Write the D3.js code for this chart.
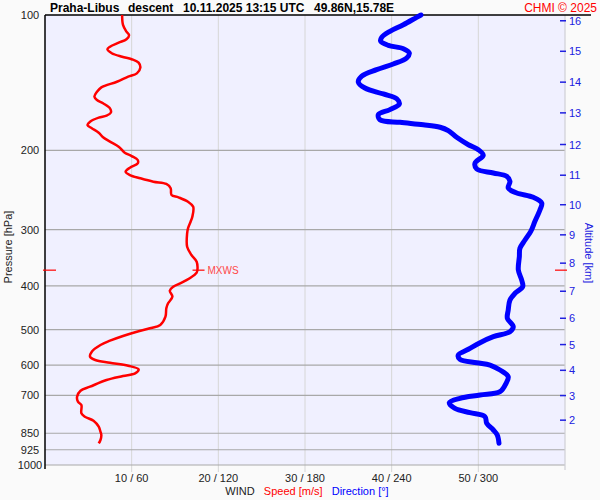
<!DOCTYPE html>
<html>
<head>
<meta charset="utf-8">
<script src="https://cdn.jsdelivr.net/npm/d3@7"></script>
<style>
body { margin: 0; background: #fafafa; }
text { font-family: "Liberation Sans", Arial, sans-serif; }
</style>
</head>
<body>
<script>
// wind speed profile [hPa, m/s]
var speedP = [100,105.2,108.9,110.8,113.2,115.2,117.6,119.2,121.6,123.8,125.4,127.6,130.9,134.8,137.1,140.7,144.8,148.1,151.9,154.5,
  157.1,161.2,164.8,167.4,169.1,172.6,175.6,178.5,182.6,187,191.2,196.2,202.3,205.8,210,213.6,218.4,223,226.8,230.6,
  234.7,237.4,242.7,251.2,254.2,260,266.7,280.7,288,297.9,305.6,327.3,341.5,353.4,365.5,373.8,384.7,394.7,401.6,409.9,
  422.7,437.2,448.5,468.2,488.5,496.9,505.6,516.8,529.4,541.2,560,574.6,584.4,592.5,601.7,612.9,625.5,634.2,647.3,669.9,
  683.7,705.1,723.3,735.6,767.5,781,797.2,822,843.3,857.7,879.9,894.9];
var speedV = [8.9,9.0,9.4,9.7,9.4,8.5,7.5,7.2,7.7,8.9,10.0,10.8,11.0,10.6,9.6,8.3,6.5,6.0,5.7,6.0,
  6.7,7.5,7.6,7.1,6.2,5.2,4.9,5.4,6.2,6.7,7.5,8.5,9.2,10.0,10.7,10.7,9.8,9.3,9.8,11.0,
  12.5,14.0,14.5,14.6,15.4,16.5,17.1,17.0,16.8,16.5,16.4,16.4,16.9,17.5,17.6,17.5,16.7,15.6,14.8,14.4,
  14.7,14.2,14.0,13.9,13.3,12.1,10.6,9.0,7.5,6.4,5.4,5.2,5.8,7.5,9.6,10.8,10.4,9.0,7.1,5.2,
  4.1,3.7,3.8,4.2,4.2,4.6,5.6,6.2,6.4,6.5,6.4,6.2];

// wind direction profile [hPa, deg]
var dirP = [100,101.2,105.1,108.7,112.1,114.4,116.8,118.8,121.5,124.6,128.5,132.3,136.8,140.9,145.3,149.8,153.5,157.7,162.3,166.5,
  170.9,173.2,175.3,177.6,180.7,187,194.2,199.2,205,213.3,219.9,224.4,228.3,234.2,242.4,248.6,254.2,261.7,270.8,287.4,
  302.5,316.2,330,344.4,368.8,388.1,401.6,415.4,429.9,452.5,472.1,492.8,505.6,518.7,534.8,553.2,569.6,582.3,592.5,599.5,
  615.1,636.5,658.3,687.2,699,710.9,727.1,748.2,765.2,781,807.8,836,857.7,894.9];
var dirV = [260.3,257.3,248.1,238.8,233.1,232.4,237.7,248.1,252.2,250.4,241.1,229.6,219.3,216.9,221.5,234.2,243.5,245.3,238.8,230.8,
  231.9,245.8,261.9,273.5,279.2,285.0,293.1,300.0,303.4,297.7,298.9,310.4,319.6,321.9,320.7,326.6,338.1,343.9,342.7,339.2,
  336.3,332.3,328.8,328.4,327.7,330.0,330.7,325.4,321.9,320.7,320.1,324.2,321.9,310.4,301.2,293.1,286.1,287.3,298.9,308.1,
  315.0,320.7,319.2,315.0,301.2,287.3,279.9,283.8,294.2,304.6,305.8,310.4,313.1,314.3];

var pressureTicks = [100,200,300,400,500,600,700,850,925,1000];
var altKm = [2,3,4,5,6,7,8,9,10,11,12,13,14,15,16];
var altP = [795,701,616,540,472,411,356,308,264,227,194,165,141,120.4,103];
var speedTicks = [10,20,30,40,50];
var speedTickLabels = ["10 / 60","20 / 120","30 / 180","40 / 240","50 / 300"];
var mxwsP = 369, mxwsV = 17.6;

var W = 600, H = 500;
var pLeft = 45, pRight = 565, pTop = 15, pBottom = 465;

var svg = d3.select("body").append("svg")
  .attr("width", W).attr("height", H);

svg.append("rect").attr("width", W).attr("height", H).attr("fill", "#fafafa");

var y = d3.scaleLog().domain([100, 1000]).range([pTop, pBottom]);
var xs = d3.scaleLinear().domain([0, 60]).range([pLeft, pRight]);
var xd = d3.scaleLinear().domain([0, 360]).range([pLeft, pRight]);

svg.append("rect")
  .attr("x", pLeft).attr("y", pTop)
  .attr("width", pRight - pLeft).attr("height", pBottom - pTop)
  .attr("fill", "#f0f0ff");

// vertical grid
svg.selectAll(".vgrid").data(speedTicks).enter().append("line")
  .attr("x1", d => xs(d)).attr("x2", d => xs(d))
  .attr("y1", pTop).attr("y2", pBottom + 7)
  .attr("stroke", "#d6d6d6").attr("stroke-width", 1);

// horizontal grid
svg.selectAll(".hgrid").data(pressureTicks.slice(1)).enter().append("line")
  .attr("x1", pLeft).attr("x2", pRight)
  .attr("y1", d => y(d)).attr("y2", d => y(d))
  .attr("stroke", "#a8a8a8").attr("stroke-width", 1.2);

// right border
svg.append("line")
  .attr("x1", pRight).attr("x2", pRight).attr("y1", pTop).attr("y2", pBottom + 5)
  .attr("stroke", "#cfcfd6").attr("stroke-width", 1.2);

// left axis and top line
svg.append("line")
  .attr("x1", pLeft).attr("x2", pLeft).attr("y1", pTop).attr("y2", pBottom + 4)
  .attr("stroke", "#000").attr("stroke-width", 1.5);
svg.append("line")
  .attr("x1", pLeft).attr("x2", 591).attr("y1", pTop).attr("y2", pTop)
  .attr("stroke", "#000").attr("stroke-width", 1.5);

// pressure labels
svg.selectAll(".plab").data(pressureTicks).enter().append("text")
  .attr("x", 30).attr("y", d => y(d))
  .attr("text-anchor", "middle").attr("dominant-baseline", "central")
  .attr("font-size", 11).attr("fill", "#222")
  .text(d => d);

svg.append("text")
  .attr("transform", "translate(8,247) rotate(-90)")
  .attr("text-anchor", "middle").attr("dominant-baseline", "central")
  .attr("font-size", 11).attr("fill", "#222")
  .text("Pressure [hPa]");

// altitude axis
svg.selectAll(".atick").data(altKm).enter().append("line")
  .attr("x1", pRight - 5).attr("x2", pRight + 1)
  .attr("y1", (d, i) => y(altP[i])).attr("y2", (d, i) => y(altP[i]))
  .attr("stroke", "#2020e0").attr("stroke-width", 1.5);
svg.selectAll(".alab").data(altKm).enter().append("text")
  .attr("x", pRight + 4).attr("y", (d, i) => y(altP[i]))
  .attr("dominant-baseline", "central")
  .attr("font-size", 11).attr("fill", "#2020e0")
  .text(d => d);
svg.append("text")
  .attr("transform", "translate(589,253) rotate(90)")
  .attr("text-anchor", "middle").attr("dominant-baseline", "central")
  .attr("font-size", 11).attr("fill", "#2020e0")
  .text("Altitude [km]");

// bottom labels
svg.selectAll(".slab").data(speedTicks).enter().append("text")
  .attr("x", d => xs(d)).attr("y", 478)
  .attr("text-anchor", "middle").attr("dominant-baseline", "central")
  .attr("font-size", 11).attr("fill", "#222")
  .text((d, i) => speedTickLabels[i]);

var leg = svg.append("text").attr("x", 307).attr("y", 491)
  .attr("text-anchor", "middle").attr("dominant-baseline", "central")
  .attr("font-size", 11).attr("xml:space", "preserve");
leg.append("tspan").attr("fill", "#222").text("WIND  ");
leg.append("tspan").attr("fill", "#ff0000").text(" Speed [m/s]  ");
leg.append("tspan").attr("fill", "#0000ff").text(" Direction [\u00b0]");

// max wind markers
[[pLeft - 2, pLeft + 11], [pRight - 10, pRight + 2]].forEach(function (r) {
  svg.append("line")
    .attr("x1", r[0]).attr("x2", r[1]).attr("y1", y(mxwsP)).attr("y2", y(mxwsP))
    .attr("stroke", "#ff0000").attr("stroke-width", 1.2);
});

var speedData = speedP.map((p, i) => ({p: p, v: speedV[i]}));
var dirData = dirP.map((p, i) => ({p: p, v: dirV[i]}));

svg.append("path").datum(dirData)
  .attr("fill", "none").attr("stroke", "#0000ff").attr("stroke-width", 5)
  .attr("stroke-linecap", "round").attr("stroke-linejoin", "round")
  .attr("d", d3.line().x(d => xd(d.v)).y(d => y(d.p)).curve(d3.curveCatmullRom.alpha(0.5)));

svg.append("path").datum(speedData)
  .attr("fill", "none").attr("stroke", "#ff0000").attr("stroke-width", 2.5)
  .attr("stroke-linejoin", "round")
  .attr("d", d3.line().x(d => xs(d.v)).y(d => y(d.p)).curve(d3.curveCatmullRom.alpha(0.5)));

svg.append("line")
  .attr("x1", xs(mxwsV) - 5).attr("x2", xs(mxwsV) + 7)
  .attr("y1", y(mxwsP)).attr("y2", y(mxwsP))
  .attr("stroke", "#ff0000").attr("stroke-width", 1.2);
svg.append("text")
  .attr("x", xs(mxwsV) + 10).attr("y", y(mxwsP))
  .attr("dominant-baseline", "central")
  .attr("font-size", 10).attr("fill", "#ff4848")
  .text("MXWS");

// title
var title = svg.append("text").attr("y", 12).attr("font-size", 12).attr("font-weight", "bold").attr("fill", "#000");
title.append("tspan").attr("x", 50).text("Praha-Libus");
title.append("tspan").attr("x", 128).text("descent");
title.append("tspan").attr("x", 183).text("10.11.2025 13:15 UTC");
title.append("tspan").attr("x", 314).text("49.86N,15.78E");

svg.append("text").attr("x", 597).attr("y", 12)
  .attr("text-anchor", "end").attr("font-size", 12).attr("fill", "#ff0000")
  .text("CHMI \u00a9 2025");
</script>
</body>
</html>
